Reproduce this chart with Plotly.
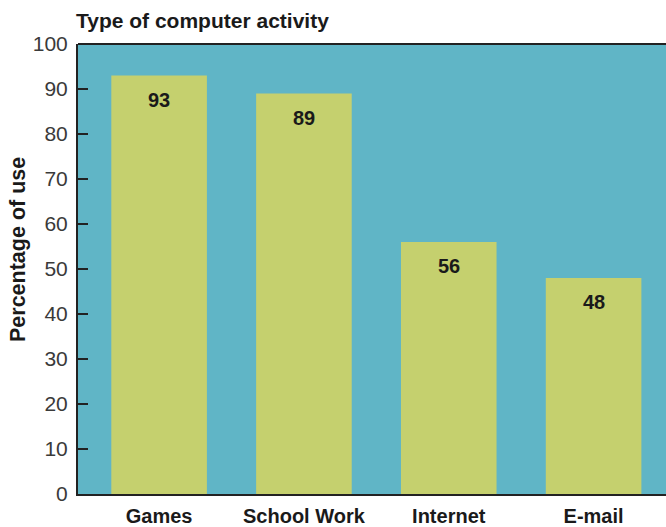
import plotly.graph_objects as go

# Share of children using the computer for each activity
activities = ["Games", "School Work", "Internet", "E-mail"]
percent_use = [93, 89, 56, 48]
y_ticks = [0, 10, 20, 30, 40, 50, 60, 70, 80, 90, 100]

TEAL = "#60B5C6"
BAR = "#C5D06E"
INK = "#1a1a1a"
FONT = "Liberation Sans, Arial, sans-serif"

W, H = 666, 527
M_L, M_R, M_T, M_B = 78, 0, 44, 33
plot_w = W - M_L - M_R
plot_h = H - M_T - M_B

fig = go.Figure()
fig.add_trace(go.Bar(
    x=activities,
    y=percent_use,
    width=0.66,
    marker=dict(color=BAR, line=dict(width=0)),
    hoverinfo="x+y",
))

# value labels just below each bar top
for name, val in zip(activities, percent_use):
    fig.add_annotation(
        x=name, y=val, xref="x", yref="y",
        text=f"<b>{val}</b>", showarrow=False,
        yanchor="top", yshift=-11,
        font=dict(family=FONT, size=20, color=INK),
    )

# chart heading, top-left
fig.add_annotation(
    xref="paper", yref="paper",
    x=-4 / plot_w, y=(plot_h + M_T - 20) / plot_h,
    xanchor="left", yanchor="middle",
    text="<b>Type of computer activity</b>", showarrow=False,
    font=dict(family=FONT, size=21, color=INK),
)

# vertical axis title
fig.add_annotation(
    xref="paper", yref="paper",
    x=(18 - M_L) / plot_w, y=(M_T + plot_h - 250) / plot_h,
    xanchor="center", yanchor="middle", textangle=-90,
    text="<b>Percentage of use</b>", showarrow=False,
    font=dict(family=FONT, size=21.5, color=INK),
)

# dark frame line along the top of the plot area
fig.add_shape(
    type="line", xref="paper", yref="paper",
    x0=0, x1=1, y0=1, y1=1,
    line=dict(color="#222222", width=2),
)

fig.update_layout(
    width=W, height=H,
    margin=dict(l=M_L, r=M_R, t=M_T, b=M_B, pad=0, autoexpand=False),
    paper_bgcolor="white",
    plot_bgcolor=TEAL,
    showlegend=False,
    bargap=0.34,
    font=dict(family=FONT),
)

fig.update_xaxes(
    type="category",
    range=[-0.56, 3.5],
    automargin=False,
    showgrid=False,
    zeroline=False,
    showline=True, linecolor="#222222", linewidth=2,
    ticks="",
    tickfont=dict(family=FONT, size=20, color=INK, weight="bold"),
    ticklabelstandoff=3,
)

fig.update_yaxes(
    range=[0, 100],
    tickvals=y_ticks,
    automargin=False,
    showgrid=False,
    zeroline=False,
    showline=True, linecolor="#222222", linewidth=2,
    ticks="inside", ticklen=10, tickwidth=2, tickcolor="#222222",
    tickfont=dict(family=FONT, size=21, color="#3a3a3a"),
    ticklabelstandoff=4,
)

fig.write_html("out.html")
